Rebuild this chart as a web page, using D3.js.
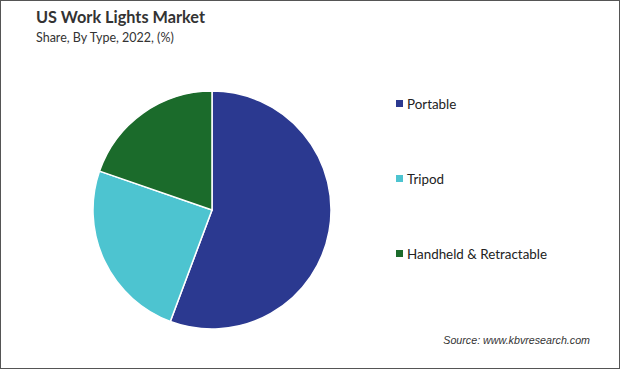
<!DOCTYPE html>
<html><head><meta charset="utf-8">
<script src="https://cdn.jsdelivr.net/npm/d3@7"></script>
<style>body{margin:0;background:#fff}</style>
</head><body>
<svg id="c" width="620" height="369"></svg>
<script>
const categories = ["Portable", "Tripod", "Handheld & Retractable"];
const values = [55.7, 24.6, 19.7];
const colors = ["#2b3990", "#4dc4d0", "#1b6b2b"];

const svg = d3.select("#c");
svg.append("rect").attr("x",0.5).attr("y",0.5).attr("width",619).attr("height",368)
  .attr("fill","#fff").attr("stroke","#555").attr("stroke-width",1);

svg.append("text").attr("x",36).attr("y",23).text("US Work Lights Market")
  .attr("font-family","Lato, 'DejaVu Sans', sans-serif").attr("font-weight","bold")
  .attr("font-size",16.3).attr("fill","#333");
svg.append("text").attr("x",36).attr("y",42).text("Share, By Type, 2022, (%)")
  .attr("font-family","Lato, 'DejaVu Sans', sans-serif")
  .attr("font-size",12.5).attr("fill","#333");

const pie = d3.pie().sort(null).value(d=>d)(values);
const arc = d3.arc().innerRadius(0).outerRadius(119);
const g = svg.append("g").attr("transform","translate(212,210)");
g.selectAll("path").data(pie).join("path")
  .attr("d",arc).attr("fill",(d,i)=>colors[i])
  .attr("stroke","#fff").attr("stroke-width",1.5);

const ly = d3.scalePoint().domain(categories).range([104,254]);
const lg = svg.append("g");
categories.forEach((c,i)=>{
  lg.append("rect").attr("x",396).attr("y",ly(c)-4).attr("width",7).attr("height",7).attr("fill",colors[i]);
  lg.append("text").attr("x",407).attr("y",ly(c)+4.5).text(c)
    .attr("font-family","Lato, 'DejaVu Sans', sans-serif").attr("font-size",13.4).attr("fill","#222");
});

svg.append("text").attr("x",590).attr("y",344).attr("text-anchor","end")
  .text("Source: www.kbvresearch.com")
  .attr("font-family","'Liberation Sans', Arial, sans-serif").attr("font-style","italic")
  .attr("font-size",10.7).attr("fill","#333");
</script>
</body></html>
